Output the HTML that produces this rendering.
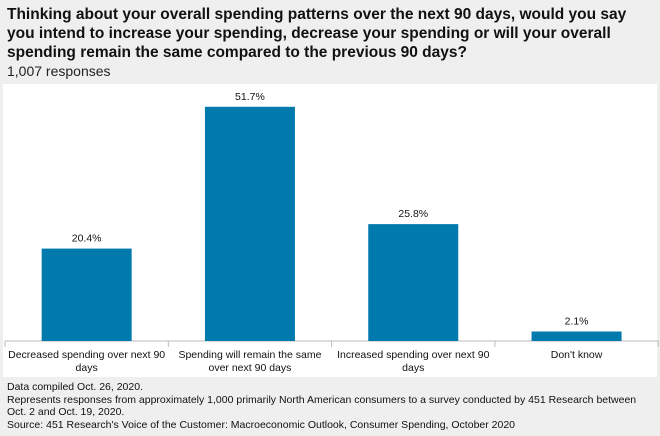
<!DOCTYPE html>
<html><head><meta charset="utf-8"><style>
body{margin:0;width:660px;height:436px;background:#efefef;font-family:"Liberation Sans",sans-serif;overflow:hidden;position:relative}
.t{position:absolute;left:7px;top:5px;font-size:15.5px;font-weight:bold;line-height:19px;color:#111;width:650px}
.s{position:absolute;left:7px;top:63px;font-size:14px;color:#222}
.f{position:absolute;left:7px;top:381px;font-size:10.5px;line-height:12.5px;color:#111}
svg{position:absolute;left:0;top:0}
</style></head><body>
<div class="t">Thinking about your overall spending patterns over the next 90 days, would you say you intend to increase your spending, decrease your spending or will your overall spending remain the same compared to the previous 90 days?</div>
<div class="s">1,007 responses</div>
<svg width="660" height="436" id="c">
<rect x="3" y="84" width="654" height="293" fill="#fff"/>
</svg>
<div class="f">Data compiled Oct. 26, 2020.<br>Represents responses from approximately 1,000 primarily North American consumers to a survey conducted by 451 Research between<br>Oct. 2 and Oct. 19, 2020.<br>Source: 451 Research's Voice of the Customer: Macroeconomic Outlook, Consumer Spending, October 2020</div>
<script>
const categories=[["Decreased spending over next 90","days"],["Spending will remain the same","over next 90 days"],["Increased spending over next 90","days"],["Don't know"]];
const values=[20.4,51.7,25.8,2.1];
const labels=["20.4%","51.7%","25.8%","2.1%"];
const svg=document.getElementById('c');const NS="http://www.w3.org/2000/svg";
const x0=5,cw=163.3,base=341,k=4.53;
const y=v=>base-v*k;
function mk(t,a){const e=document.createElementNS(NS,t);for(const q in a)e.setAttribute(q,a[q]);svg.appendChild(e);return e;}
const ax=mk('line',{x1:x0,x2:x0+4*cw,y1:base,y2:base,stroke:'#bbb'});


for(let i=0;i<=4;i++){const t=mk('line',{x1:x0+i*cw,x2:x0+i*cw,y1:base,y2:base+6,stroke:'#bbb'});

}
values.forEach((v,i)=>{const cx=x0+cw*(i+0.5);
const r=mk('rect',{x:cx-45,y:y(v),width:90,height:base-y(v),fill:'#0079ad'});


const l=mk('text',{x:cx,y:y(v)-7,'text-anchor':'middle','font-size':'10.5',fill:'#111'});l.textContent=labels[i];


categories[i].forEach((s,j)=>{const c=mk('text',{x:cx,y:base+17+j*13,'text-anchor':'middle','font-size':'10.5',fill:'#111'});c.textContent=s;

});
});
</script>
</body></html>
